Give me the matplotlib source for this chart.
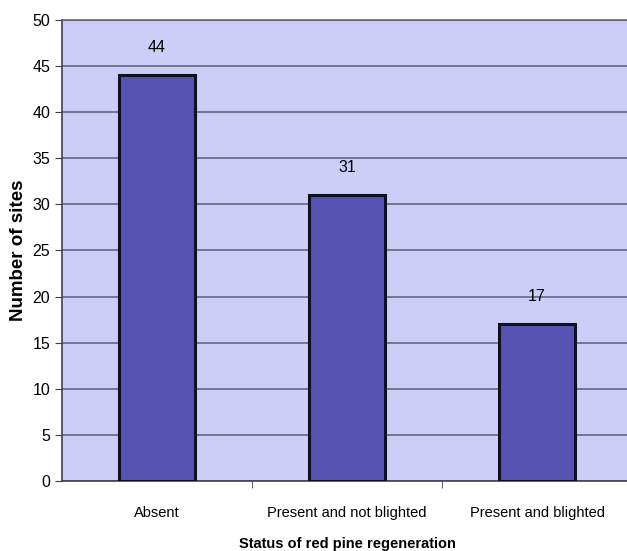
import matplotlib
matplotlib.use('Agg')
import matplotlib.pyplot as plt
import numpy as np

categories = ["Absent", "Present and not blighted", "Present and blighted"]
sites = [44, 31, 17]
y_ticks = [0, 5, 10, 15, 20, 25, 30, 35, 40, 45, 50]

plt.rcParams['font.family'] = ['Liberation Sans', 'DejaVu Sans']

W, H = 627, 551
fig = plt.figure(figsize=(W / 100, H / 100), dpi=100)
# plot area runs slightly past the right edge of the figure
left, bottom, right, top = 62, 70, 632, 531
ax = fig.add_axes([left / W, bottom / H, (right - left) / W, (top - bottom) / H])

ax.set_facecolor('#cdcdf7')
x = np.arange(len(categories))
ax.bar(x, sites, width=0.4, color='#5753b2', edgecolor='#101020', linewidth=2.2, zorder=3)

for xi, v in zip(x, sites):
    ax.text(xi, v + 2.2, str(v), ha='center', va='bottom', fontsize=11.5)

ax.set_xlim(-0.5, 2.5)
ax.set_ylim(0, 50)
ax.set_yticks(y_ticks)
ax.yaxis.grid(True, color='#5c5c78', linewidth=1.1, zorder=1)
ax.set_axisbelow(True)

# category labels sit between boundary tick marks
ax.set_xticks(x)
ax.set_xticklabels(categories, fontsize=10.5)
ax.tick_params(axis='x', length=0, pad=18)
ax.set_xticks([0.5, 1.5], minor=True)
ax.tick_params(axis='x', which='minor', length=5, color='#404040')
ax.tick_params(axis='y', length=5, labelsize=11.5, color='#404040')

ax.spines['right'].set_visible(False)
ax.spines['top'].set_color('#5c5c78')
ax.spines['top'].set_linewidth(1.1)
ax.spines['left'].set_color('#404050')
ax.spines['left'].set_linewidth(1.2)
ax.spines['bottom'].set_color('#404050')
ax.spines['bottom'].set_linewidth(1.2)

ax.set_ylabel('Number of sites', fontsize=13.5, fontweight='bold', labelpad=4)
ax.set_xlabel('Status of red pine regeneration', fontsize=10.5, fontweight='bold', labelpad=12)

fig.savefig('out.png', dpi=100)
